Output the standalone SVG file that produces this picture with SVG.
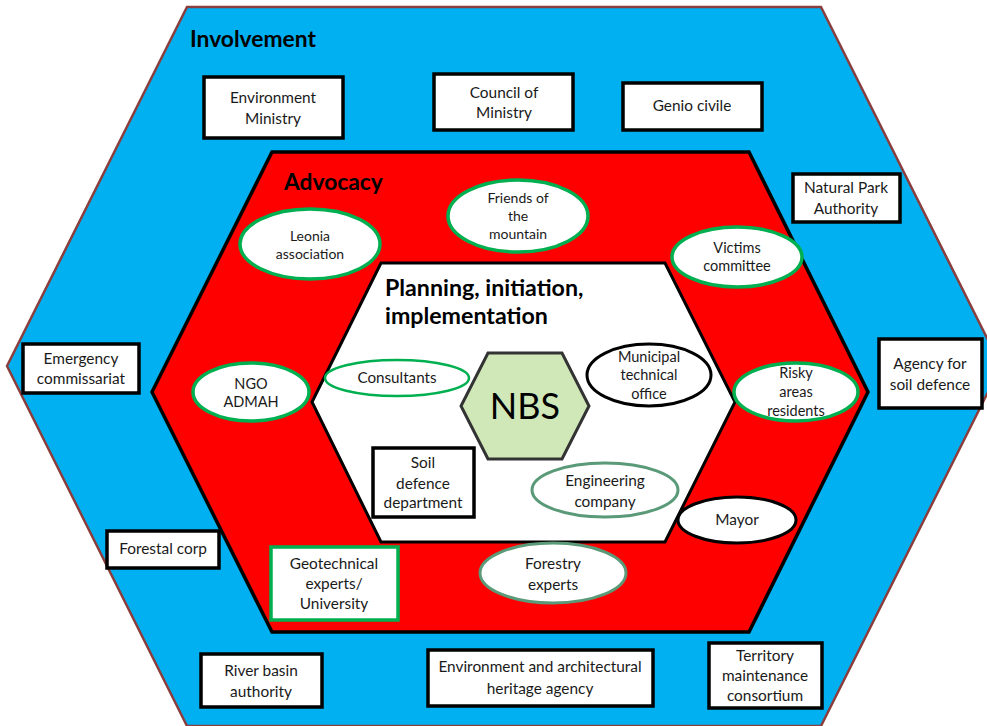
<svg xmlns="http://www.w3.org/2000/svg" width="987" height="726" viewBox="0 0 987 726">
<style>
text{font-family:Lato,"Open Sans",sans-serif;fill:#1a1a1a;text-anchor:middle;font-size:15.4px}
.title{font-weight:bold;text-anchor:start;font-size:22.8px;fill:#000}
.box{fill:#fff;stroke:#000;stroke-width:3.5}
.gbox{fill:#fff;stroke:#00B050;stroke-width:3.5}
.ge{fill:#fff;stroke:#00B050;stroke-width:3.5}
.ge2{fill:#fff;stroke:#00B050;stroke-width:2.5}
.se{fill:#fff;stroke:#5A9A78;stroke-width:3}
.be{fill:#fff;stroke:#000;stroke-width:3}
.sm{font-size:14.5px}
.xs{font-size:14px}
</style>
<g id="layers">
<polygon id="involvement-layer" points="187,7 821,7 1001,366 821,726 187,726 7,366" fill="#00B0F0" stroke="#8B3E3E" stroke-width="2.5"/>
<polygon id="advocacy-layer" points="272,152 749,152 868,392 749,632 272,632 152,392" fill="#FF0000" stroke="#000" stroke-width="3.5"/>
<polygon id="planning-layer" points="381,263 665,263 735,402 665,542 381,542 312,402" fill="#fff" stroke="#000" stroke-width="3"/>
</g>
<g id="titles">
<text class="title" x="190" y="47">Involvement</text>
<text class="title" x="284" y="190">Advocacy</text>
<text class="title" x="385" y="296" style="font-size:23.2px">Planning, initiation,</text>
<text class="title" x="385" y="324" style="font-size:23.2px">implementation</text>
</g>
<g id="nbs">
<polygon points="488,353 562,353 589,406 562,459 488,459 461,406" fill="#D0E8B8" stroke="#333" stroke-width="3"/>
<text x="525" y="419" style="font-size:36px;fill:#000">NBS</text>
</g>
<g id="environment-ministry"><rect class="box" x="204" y="77" width="139" height="61"/><text x="273" y="103">Environment</text><text x="273" y="124">Ministry</text></g>
<g id="council-of-ministry"><rect class="box" x="434" y="74" width="139" height="56"/><text x="504" y="98">Council of</text><text x="504" y="118">Ministry</text></g>
<g id="genio-civile"><rect class="box" x="623" y="83" width="139" height="47"/><text x="692" y="111">Genio civile</text></g>
<g id="natural-park-authority"><rect class="box" x="793" y="174" width="107" height="48"/><text x="846" y="193">Natural Park</text><text x="846" y="214">Authority</text></g>
<g id="emergency-commissariat"><rect class="box" x="23" y="344" width="116" height="49"/><text x="81" y="364">Emergency</text><text x="81" y="384">commissariat</text></g>
<g id="agency-soil-defence"><rect class="box" x="879" y="339" width="103" height="69"/><text x="930" y="369">Agency for</text><text x="930" y="390">soil defence</text></g>
<g id="forestal-corp"><rect class="box" x="107" y="531" width="112" height="37"/><text x="163" y="554">Forestal corp</text></g>
<g id="river-basin-authority"><rect class="box" x="201" y="654" width="121" height="53"/><text x="261" y="676">River basin</text><text x="261" y="697">authority</text></g>
<g id="heritage-agency"><rect class="box" x="428" y="650" width="225" height="56"/><text x="540" y="672">Environment and architectural</text><text x="540" y="694">heritage agency</text></g>
<g id="territory-consortium"><rect class="box" x="709" y="643" width="113" height="65"/><text x="765" y="661">Territory</text><text x="765" y="681">maintenance</text><text x="765" y="701">consortium</text></g>
<g id="soil-defence-department"><rect class="box" x="373" y="448" width="101" height="69"/><text x="423" y="468">Soil</text><text x="423" y="489">defence</text><text x="423" y="508">department</text></g>
<g id="geotechnical-experts"><rect class="gbox" x="271" y="547" width="127" height="73"/><text x="334" y="569">Geotechnical</text><text x="334" y="589">experts/</text><text x="334" y="609">University</text></g>
<g id="leonia-association"><ellipse class="ge" cx="310" cy="244" rx="70" ry="35"/><text class="xs" x="310" y="241">Leonia</text><text class="xs" x="310" y="259">association</text></g>
<g id="friends-of-the-mountain"><ellipse class="ge" cx="518" cy="216" rx="70" ry="36"/><text class="xs" x="518" y="203">Friends of</text><text class="xs" x="518" y="221">the</text><text class="xs" x="518" y="239">mountain</text></g>
<g id="victims-committee"><ellipse class="ge" cx="737" cy="257" rx="65" ry="30"/><text class="sm" x="737" y="253">Victims</text><text class="sm" x="737" y="271">committee</text></g>
<g id="ngo-admah"><ellipse class="ge" cx="251" cy="392" rx="58" ry="29"/><text class="sm" x="251" y="389">NGO</text><text class="sm" x="251" y="407">ADMAH</text></g>
<g id="consultants"><ellipse class="ge2" cx="397" cy="378" rx="72" ry="18"/><text x="397" y="383" style="font-size:15.2px">Consultants</text></g>
<g id="municipal-technical-office"><ellipse class="be" cx="649" cy="375" rx="62" ry="31"/><text class="sm" x="649" y="362">Municipal</text><text class="sm" x="649" y="380">technical</text><text class="sm" x="649" y="399">office</text></g>
<g id="risky-areas-residents"><ellipse class="ge" cx="796" cy="392" rx="62" ry="29"/><text class="sm" x="796" y="378">Risky</text><text class="sm" x="796" y="397">areas</text><text class="sm" x="796" y="416">residents</text></g>
<g id="engineering-company"><ellipse class="se" cx="605" cy="490" rx="73" ry="27"/><text x="605" y="486">Engineering</text><text x="605" y="507">company</text></g>
<g id="mayor"><ellipse class="be" cx="737" cy="520" rx="59" ry="23"/><text x="737" y="525">Mayor</text></g>
<g id="forestry-experts"><ellipse class="se" cx="553" cy="573" rx="73" ry="30"/><text x="553" y="569">Forestry</text><text x="553" y="590">experts</text></g>
<g id="connectors"></g>
</svg>
